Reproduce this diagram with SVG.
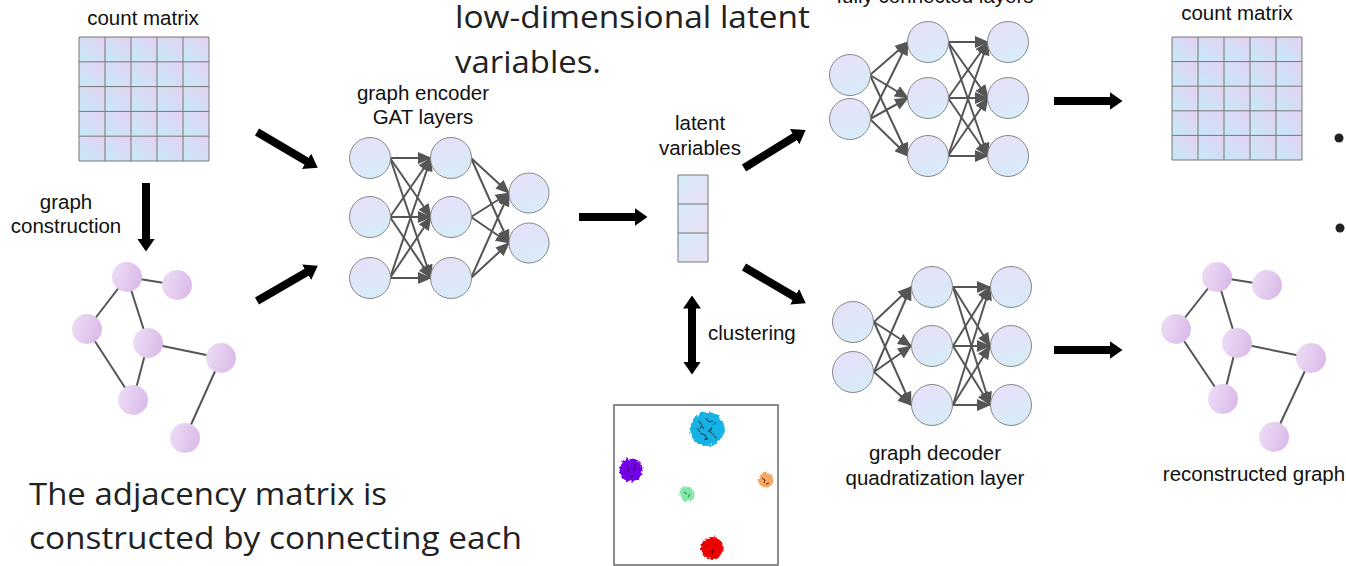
<svg xmlns="http://www.w3.org/2000/svg" width="1346" height="566" viewBox="0 0 1346 566">
  <defs>
    <linearGradient id="cellGrad" x1="0" y1="1" x2="1" y2="0">
      <stop offset="0" stop-color="#c4eaf8"/>
      <stop offset="1" stop-color="#e6d0f2"/>
    </linearGradient>
    <linearGradient id="latGrad" x1="0" y1="0" x2="1" y2="1">
      <stop offset="0" stop-color="#d2ecf8"/>
      <stop offset="1" stop-color="#ece0f6"/>
    </linearGradient>
    <linearGradient id="nnGrad" x1="0.3" y1="0" x2="0.6" y2="1">
      <stop offset="0" stop-color="#e8e0f8"/>
      <stop offset="1" stop-color="#d6ecf8"/>
    </linearGradient>
    <linearGradient id="gnGrad" x1="0" y1="0" x2="1" y2="0.3">
      <stop offset="0" stop-color="#eedff6"/>
      <stop offset="1" stop-color="#dcbde9"/>
    </linearGradient>
    <marker id="nnHead" markerUnits="userSpaceOnUse" markerWidth="14" markerHeight="12" viewBox="0 0 14 12" refX="13" refY="6" orient="auto">
      <path d="M0,0 L14,6 L0,12 z" fill="#555"/>
    </marker>
    <marker id="bigHead" markerUnits="userSpaceOnUse" markerWidth="13" markerHeight="18" viewBox="0 0 13 18" refX="0.5" refY="9" orient="auto-start-reverse">
      <path d="M0,0 L13,9 L0,18 z" fill="#000"/>
    </marker>
    <filter id="rough" x="-30%" y="-30%" width="160%" height="160%">
      <feTurbulence type="fractalNoise" baseFrequency="0.35" numOctaves="2" seed="3"/>
      <feDisplacementMap in="SourceGraphic" scale="5" xChannelSelector="R" yChannelSelector="G"/>
    </filter>
  </defs>
  <style>
    .lbl { font-family: "Liberation Sans", Arial, sans-serif; font-size: 20.5px; fill: #111; }
    .big { font-family: "Open Sans", "Noto Sans", sans-serif; font-size: 31px; fill: #222; }
    .grid { stroke: #777; stroke-width: 1; fill: none; }
    .cell { fill: url(#cellGrad); }
    .nn { fill: url(#nnGrad); stroke: #888; stroke-width: 1; }
    .gn { fill: url(#gnGrad); }
    .ge { stroke: #555; stroke-width: 2; }
    .e { stroke: #555; stroke-width: 2; marker-end: url(#nnHead); }
    .arr { stroke: #000; stroke-width: 8; marker-end: url(#bigHead); }
  </style>

  <!-- overlaid caption text -->
  <text class="big" x="455" y="28" textLength="355" lengthAdjust="spacingAndGlyphs">low-dimensional latent</text>
  <text class="big" x="455" y="73" textLength="146" lengthAdjust="spacingAndGlyphs">variables.</text>
  <text class="big" x="29" y="505" textLength="358" lengthAdjust="spacingAndGlyphs">The adjacency matrix is</text>
  <text class="big" x="29" y="549" textLength="493" lengthAdjust="spacingAndGlyphs">constructed by connecting each</text>

  <!-- input count matrix -->
  <g id="count-matrix-in">
    <text class="lbl" x="143" y="25" text-anchor="middle">count matrix</text>
    <g>
      <rect class="cell" x="79" y="37" width="26" height="24.8"/><rect class="cell" x="105" y="37" width="26" height="24.8"/><rect class="cell" x="131" y="37" width="26" height="24.8"/><rect class="cell" x="157" y="37" width="26" height="24.8"/><rect class="cell" x="183" y="37" width="26" height="24.8"/>
      <rect class="cell" x="79" y="61.8" width="26" height="24.8"/><rect class="cell" x="105" y="61.8" width="26" height="24.8"/><rect class="cell" x="131" y="61.8" width="26" height="24.8"/><rect class="cell" x="157" y="61.8" width="26" height="24.8"/><rect class="cell" x="183" y="61.8" width="26" height="24.8"/>
      <rect class="cell" x="79" y="86.6" width="26" height="24.8"/><rect class="cell" x="105" y="86.6" width="26" height="24.8"/><rect class="cell" x="131" y="86.6" width="26" height="24.8"/><rect class="cell" x="157" y="86.6" width="26" height="24.8"/><rect class="cell" x="183" y="86.6" width="26" height="24.8"/>
      <rect class="cell" x="79" y="111.4" width="26" height="24.8"/><rect class="cell" x="105" y="111.4" width="26" height="24.8"/><rect class="cell" x="131" y="111.4" width="26" height="24.8"/><rect class="cell" x="157" y="111.4" width="26" height="24.8"/><rect class="cell" x="183" y="111.4" width="26" height="24.8"/>
      <rect class="cell" x="79" y="136.2" width="26" height="24.8"/><rect class="cell" x="105" y="136.2" width="26" height="24.8"/><rect class="cell" x="131" y="136.2" width="26" height="24.8"/><rect class="cell" x="157" y="136.2" width="26" height="24.8"/><rect class="cell" x="183" y="136.2" width="26" height="24.8"/>
    </g>
    <path class="grid" d="M79,37 H209 V161 H79 Z M105,37 V161 M131,37 V161 M157,37 V161 M183,37 V161 M79,61.8 H209 M79,86.6 H209 M79,111.4 H209 M79,136.2 H209"/>
  </g>

  <!-- graph construction label -->
  <g id="graph-construction">
    <text class="lbl" x="66" y="209" text-anchor="middle">graph</text>
    <text class="lbl" x="66" y="233" text-anchor="middle">construction</text>
  </g>

  <!-- input graph -->
  <g id="input-graph">
    <path class="ge" d="M127,277 L177,285 M127,277 L87,329 M127,277 L148,343 M87,329 L133,400 M148,343 L133,400 M148,343 L221,358 M221,358 L185,438"/>
    <circle class="gn" cx="127" cy="277" r="15"/>
    <circle class="gn" cx="177" cy="285" r="15"/>
    <circle class="gn" cx="87" cy="329" r="15"/>
    <circle class="gn" cx="148" cy="343" r="15"/>
    <circle class="gn" cx="221" cy="358" r="15"/>
    <circle class="gn" cx="133" cy="400" r="15"/>
    <circle class="gn" cx="185" cy="438" r="15"/>
  </g>

  <!-- graph encoder (GAT layers) -->
  <g id="graph-encoder">
    <text class="lbl" x="423" y="100" text-anchor="middle">graph encoder</text>
    <text class="lbl" x="423" y="124" text-anchor="middle">GAT layers</text>
    <g>
      <line class="e" x1="390" y1="158" x2="431" y2="158"/><line class="e" x1="390" y1="158" x2="431" y2="217"/><line class="e" x1="390" y1="158" x2="431" y2="278"/>
      <line class="e" x1="390" y1="217" x2="431" y2="158"/><line class="e" x1="390" y1="217" x2="431" y2="217"/><line class="e" x1="390" y1="217" x2="431" y2="278"/>
      <line class="e" x1="390" y1="278" x2="431" y2="158"/><line class="e" x1="390" y1="278" x2="431" y2="217"/><line class="e" x1="390" y1="278" x2="431" y2="278"/>
      <line class="e" x1="471" y1="158" x2="509" y2="193"/><line class="e" x1="471" y1="158" x2="509" y2="243"/>
      <line class="e" x1="471" y1="217" x2="509" y2="193"/><line class="e" x1="471" y1="217" x2="509" y2="243"/>
      <line class="e" x1="471" y1="278" x2="509" y2="193"/><line class="e" x1="471" y1="278" x2="509" y2="243"/>
    </g>
    <circle class="nn" cx="370" cy="158" r="20.5"/><circle class="nn" cx="370" cy="217" r="20.5"/><circle class="nn" cx="370" cy="278" r="20.5"/>
    <circle class="nn" cx="451" cy="158" r="20.5"/><circle class="nn" cx="451" cy="217" r="20.5"/><circle class="nn" cx="451" cy="278" r="20.5"/>
    <circle class="nn" cx="529" cy="193" r="20"/><circle class="nn" cx="529" cy="243" r="20"/>
  </g>

  <!-- latent variables -->
  <g id="latent">
    <text class="lbl" x="700" y="130" text-anchor="middle">latent</text>
    <text class="lbl" x="700" y="155" text-anchor="middle">variables</text>
    <rect x="678" y="175" width="30" height="29" fill="url(#latGrad)"/>
    <rect x="678" y="204" width="30" height="29" fill="url(#latGrad)"/>
    <rect x="678" y="233" width="30" height="29" fill="url(#latGrad)"/>
    <path class="grid" d="M678,175 H708 V262 H678 Z M678,204 H708 M678,233 H708"/>
  </g>

  <!-- clustering plot -->
  <g id="clustering">
    <text class="lbl" x="708" y="340">clustering</text>
    <rect x="614" y="405" width="164" height="160" fill="#fff" stroke="#666" stroke-width="1.5"/>
    <g filter="url(#rough)">
      <circle cx="707" cy="429" r="17" fill="#16b2e4"/>
      <circle cx="631" cy="470" r="11.5" fill="#7300e6"/>
      <circle cx="687" cy="494" r="7.5" fill="#80e8a8"/>
      <circle cx="766" cy="480" r="7.5" fill="#f8a860"/>
      <circle cx="712" cy="548" r="11" fill="#ee0000"/>
    </g>
    <path d="M698,421 l4,3 l-2,5 M706,418 l3,4 l4,-1 M700,433 l5,2 l2,5 M712,427 l-2,5 l4,3 M704,440 l4,-2 M714,436 l3,2 M697,428 l3,4 M708,432 l2,-3 M716,422 l-3,3 M702,426 l2,3" stroke="#0a3650" stroke-width="1" fill="none"/>
    <path d="M626,465 l3,3 l-1,4 M633,470 l3,-2 M629,477 l4,-1 M636,463 l-2,4" stroke="#2a0050" stroke-width="1" fill="none"/>
    <path d="M684,492 l3,2 M688,497 l2,-3" stroke="#2a6a40" stroke-width="1" fill="none"/>
    <path d="M762,478 l3,2 l-1,3 M766,484 l3,-1" stroke="#4a2a10" stroke-width="1" fill="none"/>
    <path d="M707,544 l3,3 M714,550 l-2,4 M710,552 l3,-2 M716,543 l-1,3" stroke="#500000" stroke-width="1" fill="none"/>
  </g>

  <!-- count-matrix decoder (fully connected layers) -->
  <g id="fc-decoder">
    <text class="lbl" x="935" y="3" text-anchor="middle">fully connected layers</text>
    <g>
      <line class="e" x1="870" y1="75" x2="908" y2="42"/><line class="e" x1="870" y1="75" x2="908" y2="98"/><line class="e" x1="870" y1="75" x2="908" y2="156"/>
      <line class="e" x1="870" y1="119" x2="908" y2="42"/><line class="e" x1="870" y1="119" x2="908" y2="98"/><line class="e" x1="870" y1="119" x2="908" y2="156"/>
      <line class="e" x1="948" y1="42" x2="988" y2="42"/><line class="e" x1="948" y1="42" x2="988" y2="98"/><line class="e" x1="948" y1="42" x2="988" y2="156"/>
      <line class="e" x1="948" y1="98" x2="988" y2="42"/><line class="e" x1="948" y1="98" x2="988" y2="98"/><line class="e" x1="948" y1="98" x2="988" y2="156"/>
      <line class="e" x1="948" y1="156" x2="988" y2="42"/><line class="e" x1="948" y1="156" x2="988" y2="98"/><line class="e" x1="948" y1="156" x2="988" y2="156"/>
    </g>
    <circle class="nn" cx="850" cy="75" r="20.5"/><circle class="nn" cx="850" cy="119" r="20.5"/>
    <circle class="nn" cx="928" cy="42" r="20.5"/><circle class="nn" cx="928" cy="98" r="20.5"/><circle class="nn" cx="928" cy="156" r="20.5"/>
    <circle class="nn" cx="1008" cy="42" r="20.5"/><circle class="nn" cx="1008" cy="98" r="20.5"/><circle class="nn" cx="1008" cy="156" r="20.5"/>
  </g>

  <!-- graph decoder (quadratization layer) -->
  <g id="graph-decoder">
    <text class="lbl" x="935" y="460" text-anchor="middle">graph decoder</text>
    <text class="lbl" x="935" y="485" text-anchor="middle">quadratization layer</text>
    <g>
      <line class="e" x1="874" y1="322" x2="911" y2="287"/><line class="e" x1="874" y1="322" x2="911" y2="346"/><line class="e" x1="874" y1="322" x2="911" y2="405"/>
      <line class="e" x1="874" y1="372" x2="911" y2="287"/><line class="e" x1="874" y1="372" x2="911" y2="346"/><line class="e" x1="874" y1="372" x2="911" y2="405"/>
      <line class="e" x1="953" y1="287" x2="990" y2="287"/><line class="e" x1="953" y1="287" x2="990" y2="346"/><line class="e" x1="953" y1="287" x2="990" y2="405"/>
      <line class="e" x1="953" y1="346" x2="990" y2="287"/><line class="e" x1="953" y1="346" x2="990" y2="346"/><line class="e" x1="953" y1="346" x2="990" y2="405"/>
      <line class="e" x1="953" y1="405" x2="990" y2="287"/><line class="e" x1="953" y1="405" x2="990" y2="346"/><line class="e" x1="953" y1="405" x2="990" y2="405"/>
    </g>
    <circle class="nn" cx="853" cy="322" r="20.5"/><circle class="nn" cx="853" cy="372" r="20.5"/>
    <circle class="nn" cx="932" cy="287" r="20.5"/><circle class="nn" cx="932" cy="346" r="20.5"/><circle class="nn" cx="932" cy="405" r="20.5"/>
    <circle class="nn" cx="1011" cy="287" r="20.5"/><circle class="nn" cx="1011" cy="346" r="20.5"/><circle class="nn" cx="1011" cy="405" r="20.5"/>
  </g>

  <!-- reconstructed count matrix -->
  <g id="count-matrix-out">
    <text class="lbl" x="1237" y="20" text-anchor="middle">count matrix</text>
    <g>
      <rect class="cell" x="1172" y="37" width="26" height="24.6"/><rect class="cell" x="1198" y="37" width="26" height="24.6"/><rect class="cell" x="1224" y="37" width="26" height="24.6"/><rect class="cell" x="1250" y="37" width="26" height="24.6"/><rect class="cell" x="1276" y="37" width="26" height="24.6"/>
      <rect class="cell" x="1172" y="61.6" width="26" height="24.6"/><rect class="cell" x="1198" y="61.6" width="26" height="24.6"/><rect class="cell" x="1224" y="61.6" width="26" height="24.6"/><rect class="cell" x="1250" y="61.6" width="26" height="24.6"/><rect class="cell" x="1276" y="61.6" width="26" height="24.6"/>
      <rect class="cell" x="1172" y="86.2" width="26" height="24.6"/><rect class="cell" x="1198" y="86.2" width="26" height="24.6"/><rect class="cell" x="1224" y="86.2" width="26" height="24.6"/><rect class="cell" x="1250" y="86.2" width="26" height="24.6"/><rect class="cell" x="1276" y="86.2" width="26" height="24.6"/>
      <rect class="cell" x="1172" y="110.8" width="26" height="24.6"/><rect class="cell" x="1198" y="110.8" width="26" height="24.6"/><rect class="cell" x="1224" y="110.8" width="26" height="24.6"/><rect class="cell" x="1250" y="110.8" width="26" height="24.6"/><rect class="cell" x="1276" y="110.8" width="26" height="24.6"/>
      <rect class="cell" x="1172" y="135.4" width="26" height="24.6"/><rect class="cell" x="1198" y="135.4" width="26" height="24.6"/><rect class="cell" x="1224" y="135.4" width="26" height="24.6"/><rect class="cell" x="1250" y="135.4" width="26" height="24.6"/><rect class="cell" x="1276" y="135.4" width="26" height="24.6"/>
    </g>
    <path class="grid" d="M1172,37 H1302 V160 H1172 Z M1198,37 V160 M1224,37 V160 M1250,37 V160 M1276,37 V160 M1172,61.6 H1302 M1172,86.2 H1302 M1172,110.8 H1302 M1172,135.4 H1302"/>
  </g>

  <!-- reconstructed graph -->
  <g id="reconstructed-graph">
    <path class="ge" d="M1217,277 L1267,285 M1217,277 L1176,329 M1217,277 L1237,343 M1176,329 L1223,399 M1237,343 L1223,399 M1237,343 L1311,358 M1311,358 L1274,437"/>
    <circle class="gn" cx="1217" cy="277" r="15"/>
    <circle class="gn" cx="1267" cy="285" r="15"/>
    <circle class="gn" cx="1176" cy="329" r="15"/>
    <circle class="gn" cx="1237" cy="343" r="15"/>
    <circle class="gn" cx="1311" cy="358" r="15"/>
    <circle class="gn" cx="1223" cy="399" r="15"/>
    <circle class="gn" cx="1274" cy="437" r="15"/>
    <text class="lbl" x="1254" y="481" text-anchor="middle">reconstructed graph</text>
  </g>

  <!-- bullet marks at the right edge -->
  <circle cx="1339" cy="138" r="4.5" fill="#222"/>
  <circle cx="1340" cy="228" r="4.5" fill="#222"/>

  <!-- connectors -->
  <g id="connectors">
    <line class="arr" x1="257" y1="132" x2="307" y2="161.5"/>
    <line class="arr" x1="257" y1="301" x2="307" y2="272"/>
    <line class="arr" x1="146" y1="183" x2="146" y2="239"/>
    <line class="arr" x1="579" y1="217" x2="635" y2="217"/>
    <line class="arr" x1="744" y1="168" x2="795" y2="136.5"/>
    <line class="arr" x1="744" y1="267" x2="795" y2="297"/>
    <line class="arr" x1="1054" y1="101" x2="1110" y2="101"/>
    <line class="arr" x1="1054" y1="350" x2="1110" y2="350"/>
    <line class="arr" x1="692" y1="308" x2="692" y2="362" marker-start="url(#bigHead)"/>
  </g>
</svg>
